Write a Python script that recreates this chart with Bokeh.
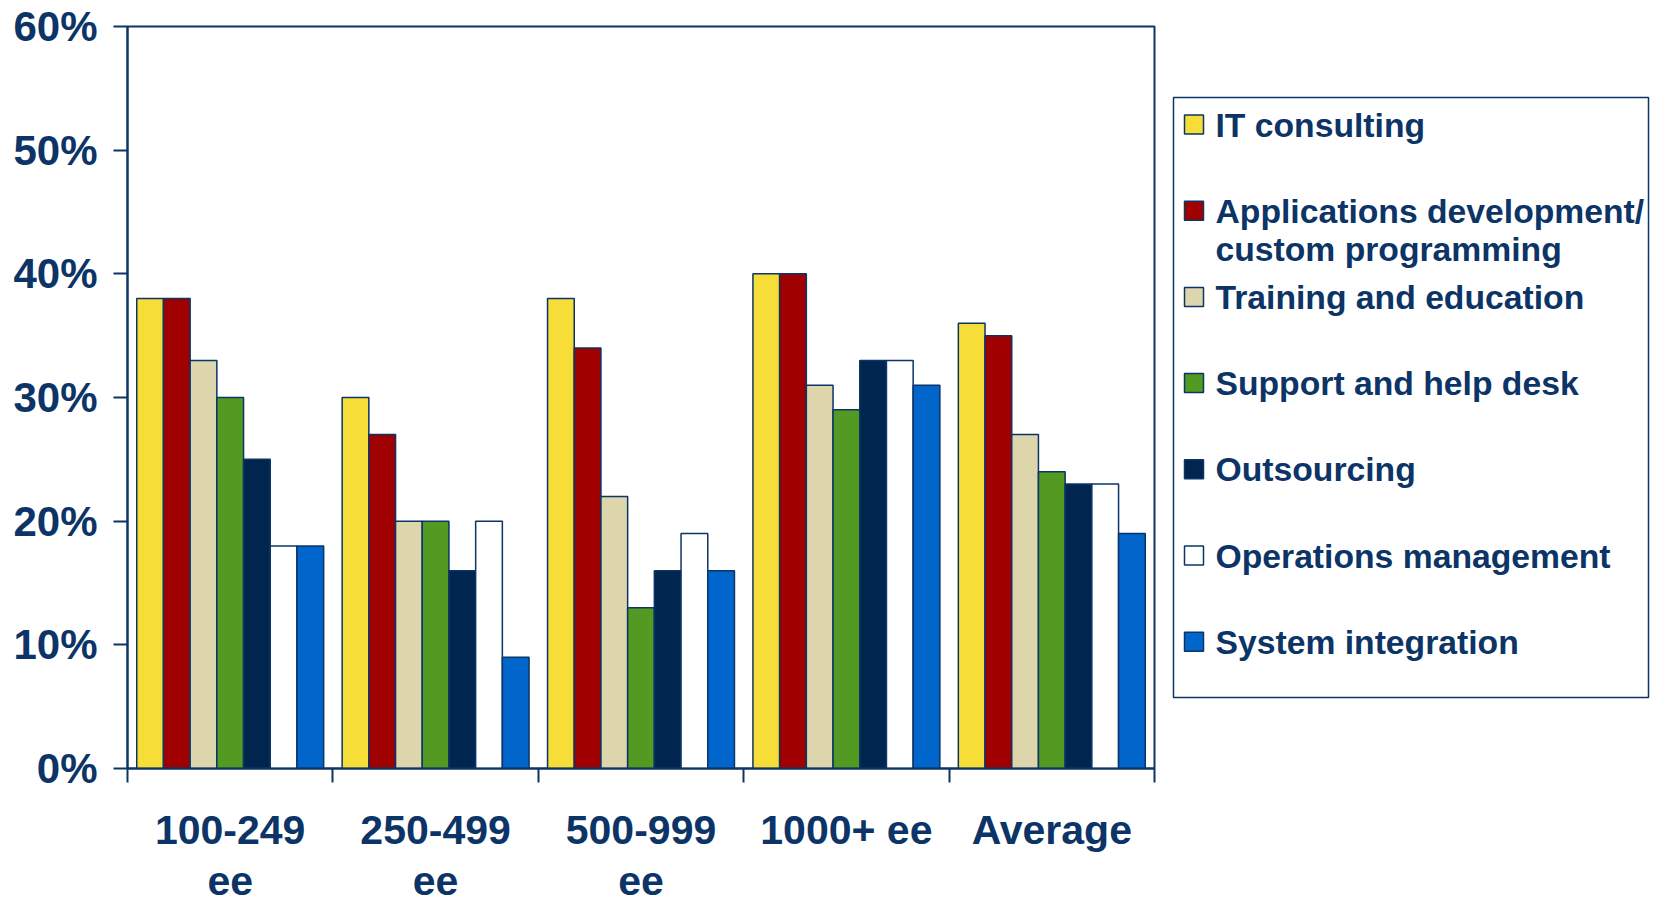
from bokeh.plotting import figure
from bokeh.layouts import row
from bokeh.models import (Range1d, FixedTicker, PrintfTickFormatter, LinearAxis,
                          ColumnDataSource)
from bokeh.core.properties import value
from bokeh.embed import file_html
from bokeh.resources import INLINE

# ---------------- data ----------------
CATEGORIES = ["100-249 ee", "250-499 ee", "500-999 ee", "1000+ ee", "Average"]
TICK_LABELS = ["100-249\nee", "250-499\nee", "500-999\nee", "1000+ ee", "Average"]
SERIES = ["IT consulting", "Applications development/\ncustom programming",
          "Training and education", "Support and help desk", "Outsourcing",
          "Operations management", "System integration"]
IT_CONSULTING = [38, 30, 38, 40, 36]
APPS_DEV = [38, 27, 34, 40, 35]
TRAINING = [33, 20, 22, 31, 27]
SUPPORT = [30, 20, 13, 29, 24]
OUTSOURCING = [25, 16, 16, 33, 23]
OPERATIONS = [18, 20, 19, 33, 23]
SYSTEM_INT = [18, 9, 16, 31, 19]
VALUES = [IT_CONSULTING, APPS_DEV, TRAINING, SUPPORT, OUTSOURCING, OPERATIONS, SYSTEM_INT]
COLORS = ["#F6DD38", "#A00000", "#DDD5AC", "#529A22", "#00254F", "#FFFFFF", "#0066CC"]
Y_TICKS = [0, 10, 20, 30, 40, 50, 60]

NAVY = "#0C3466"
FONT = "Liberation Sans"

TOTAL_H = 908
TOP_B = 26
BOTTOM_B = TOTAL_H - 768

# ---------------- main chart ----------------
n_cat = len(CATEGORIES)
p = figure(width=1157, height=TOTAL_H, x_range=Range1d(0, n_cat), y_range=Range1d(0, 60),
           output_backend="svg", toolbar_location=None,
           x_axis_type=None, y_axis_type=None,
           min_border_left=127, min_border_right=3, min_border_top=TOP_B,
           min_border_bottom=BOTTOM_B)
p.outline_line_color = NAVY
p.outline_line_width = 2
p.background_fill_color = "white"
p.border_fill_color = "white"

bar_w = 0.13
centers = [i + 0.5 for i in range(n_cat)]
for j, (name, vals, col) in enumerate(zip(SERIES, VALUES, COLORS)):
    src = ColumnDataSource(dict(x=[c + (j - (len(SERIES) - 1) / 2) * bar_w for c in centers],
                                top=vals))
    p.vbar(x="x", top="top", width=bar_w, source=src, fill_color=col,
           line_color=NAVY, line_width=1.5)

# y axis
yax = LinearAxis(ticker=FixedTicker(ticks=Y_TICKS, minor_ticks=[]),
                 formatter=PrintfTickFormatter(format="%d%%"))
yax.axis_line_color = NAVY
yax.axis_line_width = 2
yax.major_tick_out = 14
yax.major_tick_in = 0
yax.major_tick_line_color = NAVY
yax.major_tick_line_width = 2
yax.minor_tick_line_color = None
yax.major_label_standoff = 16
yax.major_label_text_font = FONT
yax.major_label_text_font_style = "bold"
yax.major_label_text_font_size = "42px"
yax.major_label_text_color = NAVY
p.add_layout(yax, "left")

# x axis: labels at category centres, ticks at boundaries
xax = LinearAxis(ticker=FixedTicker(ticks=centers, minor_ticks=list(range(n_cat + 1))))
xax.major_label_overrides = {c: lab for c, lab in zip(centers, TICK_LABELS)}
xax.axis_line_color = NAVY
xax.axis_line_width = 2
xax.major_tick_out = 0
xax.major_tick_in = 0
xax.major_tick_line_color = None
xax.minor_tick_out = 14
xax.minor_tick_in = 0
xax.minor_tick_line_color = NAVY
xax.minor_tick_line_width = 2
xax.major_label_standoff = 24
xax.major_label_text_font = FONT
xax.major_label_text_font_style = "bold"
xax.major_label_text_font_size = "41px"
xax.major_label_text_line_height = 1.13
xax.major_label_text_color = NAVY
p.add_layout(xax, "below")

p.ygrid.ticker = FixedTicker(ticks=Y_TICKS)
p.ygrid.grid_line_color = NAVY
p.ygrid.grid_line_width = 2
p.xgrid.visible = False

# ---------------- legend panel ----------------
LEG_W = 493
frame_h = TOTAL_H - TOP_B - BOTTOM_B
leg = figure(width=LEG_W, height=TOTAL_H, x_range=Range1d(0, LEG_W), y_range=Range1d(frame_h, 0),
             output_backend="svg", toolbar_location=None,
             x_axis_location=None, y_axis_location=None,
             min_border_left=0, min_border_right=0, min_border_top=TOP_B,
             min_border_bottom=BOTTOM_B)
leg.grid.visible = False
leg.outline_line_color = None
leg.background_fill_color = "white"
leg.border_fill_color = "white"

# legend box
leg.quad(left=[16], right=[491], top=[71], bottom=[671], fill_color="white",
         line_color=NAVY, line_width=1.5)

first_y = 98
step = 86.2
line_gap = 38
sq_y = [first_y + step * i for i in range(len(SERIES))]
leg.scatter(x=[36.5] * len(SERIES), y=sq_y, marker="square", size=19,
            fill_color=COLORS, line_color=NAVY, line_width=1.5)

tx, ty, tt = [], [], []
for i, name in enumerate(SERIES):
    for k, line in enumerate(name.split("\n")):
        tx.append(58)
        ty.append(first_y + step * i + k * line_gap)
        tt.append(line)
leg.text(x=tx, y=ty, text=tt, text_baseline="middle", text_align="left",
         text_font=value(FONT), text_font_style="bold", text_font_size="33.7px",
         text_color=NAVY)

layout = row(p, leg)
open("out.html", "w").write(file_html(layout, INLINE))
